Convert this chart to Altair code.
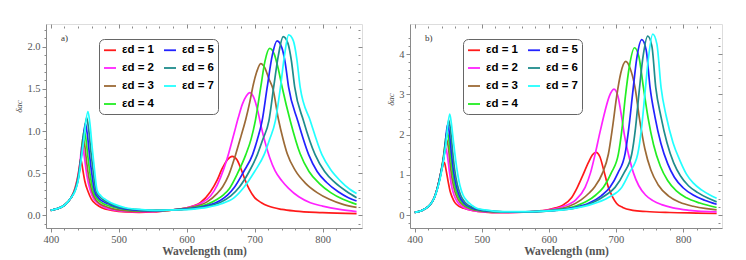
import altair as alt
import pandas as pd

# ---------------- data ----------------
EPS = ["1", "2", "3", "4", "5", "6", "7"]
COLORS = ["#ff1a1a", "#ff22ff", "#9c6a36", "#22ee22", "#2222ff", "#1f8c8c", "#22ffff"]

A1 = [(400,0.06),(410,0.08),(420,0.12),(430,0.21),(436,0.33),(440,0.47),(443,0.62),(444,0.67),(446,0.60),(448,0.50),(450,0.41),(455,0.28),(460,0.19),(467,0.13),(475,0.09),(490,0.06),(510,0.04),(530,0.035),(550,0.04),(575,0.06),(600,0.09),(620,0.15),(635,0.28),(645,0.42),(652,0.55),(660,0.66),(667,0.70),(674,0.66),(680,0.55),(686,0.42),(692,0.31),(700,0.21),(710,0.15),(720,0.11),(740,0.07),(760,0.05),(800,0.033),(850,0.02)]
A2 = [(400,0.06),(410,0.08),(420,0.12),(430,0.21),(436,0.32),(440,0.45),(443,0.62),(446,0.84),(448,0.78),(450,0.66),(453,0.48),(458,0.30),(463,0.20),(470,0.14),(480,0.09),(495,0.06),(520,0.045),(550,0.045),(580,0.065),(600,0.09),(620,0.14),(635,0.23),(645,0.36),(655,0.56),(662,0.74),(670,0.98),(676,1.16),(682,1.32),(688,1.42),(693,1.456),(698,1.41),(704,1.26),(710,1.04),(716,0.85),(722,0.69),(730,0.53),(740,0.41),(750,0.32),(765,0.22),(782,0.15),(800,0.11),(825,0.07),(850,0.045)]
A3 = [(400,0.06),(410,0.08),(420,0.12),(430,0.21),(436,0.31),(440,0.44),(444,0.66),(447.5,0.93),(450,0.83),(453,0.62),(456,0.45),(460.5,0.29),(466,0.19),(472,0.14),(479,0.11),(490,0.08),(505,0.06),(530,0.05),(560,0.055),(590,0.075),(610,0.10),(630,0.16),(645,0.26),(653,0.34),(662,0.48),(672,0.72),(680,0.94),(687,1.14),(693,1.35),(698,1.55),(703,1.70),(709,1.80),(715,1.75),(721,1.62),(727,1.50),(735,1.14),(742,0.90),(748,0.73),(760,0.53),(775,0.38),(792,0.27),(810,0.19),(830,0.13),(850,0.095)]
A4 = [(400,0.06),(410,0.08),(420,0.12),(430,0.21),(436,0.31),(440,0.43),(445,0.72),(449,1.01),(451.5,0.92),(455,0.67),(458,0.48),(462.5,0.29),(468,0.20),(475,0.15),(483,0.12),(495,0.09),(510,0.07),(530,0.055),(560,0.055),(590,0.07),(610,0.09),(630,0.13),(645,0.19),(655,0.25),(663,0.32),(675,0.50),(687,0.72),(695,0.91),(701,1.12),(709,1.52),(715,1.82),(722,1.98),(729,1.91),(735,1.73),(740.5,1.52),(752.5,1.12),(767,0.73),(780,0.52),(795,0.38),(812,0.27),(830,0.19),(850,0.13)]
A5 = [(400,0.06),(410,0.08),(420,0.12),(430,0.21),(436,0.30),(440,0.42),(446,0.78),(451,1.09),(453.5,0.98),(457,0.72),(460,0.52),(464.5,0.29),(470,0.21),(478,0.16),(486.5,0.13),(500,0.09),(520,0.065),(550,0.055),(580,0.065),(610,0.085),(630,0.115),(650,0.18),(660,0.24),(670,0.33),(684,0.52),(697,0.72),(704,0.90),(711,1.12),(718.5,1.52),(726,1.90),(733,2.07),(740,1.99),(745,1.81),(750,1.52),(763.5,1.12),(779.5,0.72),(792,0.52),(806,0.39),(823,0.28),(838,0.21),(850,0.17)]
A6 = [(400,0.06),(410,0.08),(420,0.12),(430,0.21),(436,0.30),(440,0.41),(447,0.82),(452.8,1.16),(455.5,1.04),(459,0.76),(462,0.55),(466.5,0.29),(472,0.22),(480,0.17),(490,0.13),(505,0.09),(525,0.07),(550,0.06),(580,0.065),(610,0.08),(630,0.105),(650,0.155),(665,0.23),(677,0.33),(692,0.52),(704,0.72),(712,0.90),(721,1.12),(728,1.52),(735,1.90),(742,2.12),(749,2.04),(754,1.84),(759,1.52),(772,1.12),(789,0.72),(803,0.52),(818,0.39),(836,0.28),(850,0.21)]
A7 = [(400,0.06),(410,0.08),(420,0.12),(430,0.21),(436,0.29),(440,0.40),(448,0.86),(454.7,1.23),(457.5,1.10),(461,0.80),(464,0.57),(468.4,0.29),(474,0.23),(482,0.18),(494,0.13),(510,0.09),(530,0.07),(555,0.06),(585,0.065),(610,0.075),(630,0.095),(650,0.135),(670,0.21),(684,0.33),(700,0.52),(714,0.72),(722,0.90),(730.5,1.12),(738,1.52),(744,1.90),(750,2.14),(757,2.07),(762,1.86),(767,1.52),(782,1.12),(799,0.72),(812,0.54),(826,0.41),(840,0.31),(850,0.26)]

B1 = [(400,0.07),(410,0.11),(420,0.21),(426,0.33),(430,0.47),(434,0.69),(438,0.98),(441,1.17),(444.2,1.31),(447,1.10),(450,0.82),(452.7,0.60),(456,0.44),(460,0.31),(466,0.22),(473,0.17),(487,0.11),(505,0.075),(525,0.06),(550,0.065),(575,0.09),(600,0.14),(610,0.18),(620,0.24),(634,0.44),(641.5,0.66),(649,0.93),(659,1.31),(665,1.50),(670.3,1.56),(676,1.45),(682,1.10),(688.7,0.69),(695,0.45),(701,0.29),(710,0.19),(725,0.12),(745,0.09),(780,0.065),(820,0.05),(850,0.04)]
B2 = [(400,0.07),(410,0.11),(420,0.21),(426,0.33),(430,0.47),(434,0.69),(438,0.98),(442,1.30),(446.2,1.68),(449,1.45),(452,1.05),(455,0.72),(459,0.48),(464,0.32),(470,0.22),(480,0.14),(495,0.09),(515,0.07),(545,0.065),(575,0.085),(600,0.13),(620,0.21),(640,0.38),(654,0.69),(662,1.05),(669,1.52),(676,2.05),(683.7,2.59),(690,2.95),(697,3.13),(703,2.95),(708.6,2.42),(713,1.95),(718.5,1.52),(726,1.05),(734,0.73),(744,0.50),(755,0.36),(768,0.26),(785,0.18),(810,0.12),(850,0.08)]
B3 = [(400,0.07),(410,0.11),(420,0.21),(426,0.33),(430,0.47),(434,0.69),(438,0.98),(442,1.35),(447.2,1.89),(450,1.70),(453,1.25),(456,0.88),(460,0.58),(465,0.38),(472,0.25),(482,0.16),(497,0.105),(520,0.08),(550,0.075),(580,0.09),(610,0.14),(630,0.22),(648,0.38),(660,0.55),(669,0.72),(680,1.05),(688.7,1.52),(695,2.20),(701,2.95),(707,3.52),(714.6,3.82),(721,3.65),(728.4,3.17),(735,2.40),(743,1.65),(752,1.12),(763,0.75),(778,0.48),(795,0.32),(815,0.22),(835,0.16),(850,0.13)]
B4 = [(400,0.07),(410,0.11),(420,0.21),(426,0.33),(430,0.47),(434,0.69),(438,0.97),(443,1.45),(448.2,2.08),(451,1.85),(454,1.40),(457,1.00),(461,0.65),(466,0.42),(473,0.27),(483,0.17),(498,0.115),(520,0.085),(550,0.075),(580,0.085),(610,0.125),(635,0.20),(655,0.33),(670,0.50),(681.3,0.69),(693,1.05),(703.6,1.52),(709,2.15),(714,2.95),(720,3.70),(727.5,4.16),(734,3.95),(740.9,3.17),(748,2.40),(756,1.75),(766,1.22),(777,0.86),(790,0.60),(805,0.43),(825,0.30),(850,0.19)]
B5 = [(400,0.07),(410,0.11),(420,0.21),(426,0.33),(430,0.47),(434,0.68),(438,0.96),(444,1.52),(449.2,2.26),(452,2.00),(455,1.50),(458,1.08),(462,0.72),(467,0.46),(474,0.29),(485,0.18),(500,0.12),(520,0.09),(550,0.075),(580,0.085),(610,0.12),(635,0.18),(660,0.30),(678,0.48),(691,0.69),(703,1.05),(713.5,1.52),(719,2.15),(725,3.05),(731,3.90),(738.4,4.36),(745,4.10),(750.8,3.17),(758,2.45),(767,1.78),(777,1.28),(787,0.94),(800,0.68),(815,0.50),(832,0.37),(850,0.27)]
B6 = [(400,0.07),(410,0.11),(420,0.21),(426,0.33),(430,0.46),(434,0.67),(438,0.94),(445,1.60),(450.7,2.36),(453.5,2.10),(456.5,1.58),(459.5,1.14),(463.5,0.76),(468.5,0.49),(476,0.30),(487,0.19),(503,0.125),(525,0.09),(550,0.08),(580,0.085),(610,0.115),(640,0.18),(665,0.31),(685,0.50),(698.6,0.69),(712,1.05),(723.5,1.52),(729,2.15),(734.4,3.05),(740,3.90),(747.3,4.45),(753.5,4.20),(759.3,3.17),(767,2.45),(776,1.80),(786,1.30),(796,0.98),(808,0.73),(822,0.56),(836,0.43),(850,0.33)]
B7 = [(400,0.07),(410,0.11),(420,0.21),(426,0.33),(430,0.46),(434,0.66),(438,0.92),(446,1.70),(452.2,2.51),(454.5,2.30),(457.6,1.85),(462.6,1.18),(467.5,0.73),(472,0.50),(477.5,0.36),(485,0.25),(492.4,0.17),(505,0.13),(517,0.10),(540,0.085),(570,0.085),(600,0.105),(630,0.15),(660,0.25),(690,0.45),(708.6,0.69),(720,1.05),(732.4,1.52),(738,2.15),(743.3,3.05),(748,3.85),(754.8,4.50),(761,4.25),(767.2,3.17),(775,2.45),(785,1.80),(795.5,1.35),(805,1.02),(815,0.80),(828,0.62),(840,0.50),(850,0.42)]

X_TICKS = list(range(400, 860, 20))
YA_TICKS = [round(-0.1 + 0.1 * i, 1) for i in range(24)]
YB_TICKS = [round(-0.2 + 0.2 * i, 1) for i in range(24)]

SERIES_A = [A1, A2, A3, A4, A5, A6, A7]
SERIES_B = [B1, B2, B3, B4, B5, B6, B7]


def frame(series):
    rows = []
    for e, pts in zip(EPS, series):
        for wl, v in pts:
            rows.append({"eps": e, "wl": wl, "v": v})
    return pd.DataFrame(rows)


SERIF = "Liberation Serif"
GRAY = "#555555"
FRAME = "#8a8a8a"


def panel(series, ydom, yticks, major_test, ylabel_expr, tag, title_y, width):
    df = frame(series)
    xs = alt.Scale(domain=[393, 858], nice=False, zero=False)
    ys = alt.Scale(domain=ydom, nice=False, zero=False)
    xmajor = "datum.value % 100 === 0"

    lines = alt.Chart(df).mark_line(strokeWidth=1.7, interpolate="monotone", clip=True).encode(
        x=alt.X("wl:Q", scale=xs, title="Wavelength (nm)",
                axis=alt.Axis(values=X_TICKS, labelExpr=xmajor + " ? datum.label : ''", format="d",
                              tickSize={"condition": {"test": xmajor, "value": 4}, "value": 2},
                              tickColor=FRAME, domainColor=FRAME, labelFont=SERIF, labelFontSize=10.5,
                              labelColor=GRAY, titleFont=SERIF, titleFontSize=11.5, titleFontWeight="bold",
                              titleColor=GRAY, titlePadding=1, labelPadding=2, grid=False, labelFlush=False)),
        y=alt.Y("v:Q", scale=ys, title="δac",
                axis=alt.Axis(values=yticks, labelExpr=ylabel_expr,
                              tickSize={"condition": {"test": major_test, "value": 4}, "value": 2},
                              tickColor=FRAME, domainColor=FRAME, labelFont=SERIF, labelFontSize=10.5,
                              labelColor=GRAY, titleFont=SERIF, titleFontSize=9, titleFontWeight="normal",
                              titleFontStyle="italic", titleColor=GRAY, titlePadding=3, labelPadding=2,
                              titleY=title_y, grid=False)),
        color=alt.Color("eps:N", scale=alt.Scale(domain=EPS, range=COLORS),
                        legend=alt.Legend(orient="none", legendX=53, legendY=15, columns=2, title=None,
                                          symbolType="stroke", symbolStrokeWidth=1.8, symbolSize=144,
                                          labelFont="Liberation Sans", labelFontWeight="bold",
                                          labelFontSize=11.5, labelColor="black",
                                          labelExpr="'εd = ' + datum.label",
                                          strokeColor="#666666", cornerRadius=5, fillColor="white",
                                          padding=4, rowPadding=5, columnPadding=6, labelOffset=5)),
        order=alt.Order("wl:Q"),
    )

    ghost = alt.Chart(df).mark_line(strokeOpacity=0).encode(
        x=alt.X("wl:Q", scale=xs,
                axis=alt.Axis(orient="top", values=X_TICKS, labels=False, title=None, domain=False,
                              offset=-4, tickColor=FRAME,
                              tickSize={"condition": {"test": xmajor, "value": 4}, "value": 2}, grid=False)),
        y=alt.Y("v:Q", scale=ys,
                axis=alt.Axis(orient="right", values=yticks, labels=False, title=None, domain=False,
                              offset=-4, tickColor=FRAME,
                              tickSize={"condition": {"test": major_test, "value": 4}, "value": 2}, grid=False)),
        detail="eps:N",
    )

    tag_txt = alt.Chart(pd.DataFrame({"t": [tag]})).mark_text(
        font=SERIF, fontSize=9, color="#333333", align="left", baseline="middle"
    ).encode(text="t:N", x=alt.value(15), y=alt.value(14))

    return alt.layer(lines, ghost, tag_txt).resolve_axis(x="independent", y="independent").properties(
        width=width, height=204)


ya_major = "abs(datum.value * 2 - round(datum.value * 2)) < 0.001"
yb_major = "abs(datum.value - round(datum.value)) < 0.001"

pa = panel(SERIES_A, [-0.15, 2.27], YA_TICKS, ya_major,
           ya_major + " ? format(datum.value, '.1f') : ''", "a)", 82, 316)
pb = panel(SERIES_B, [-0.32, 4.75], YB_TICKS, yb_major,
           yb_major + " ? format(datum.value, 'd') : ''", "b)", 75, 312)

chart = alt.hconcat(pa, pb, spacing=23).resolve_scale(color="independent").properties(
    padding={"left": 6, "top": 15, "right": 5, "bottom": 5}
).configure_view(stroke=FRAME, strokeWidth=1).configure(background="white")

chart.save("out.html", embed_options={"renderer": "svg", "actions": False})
